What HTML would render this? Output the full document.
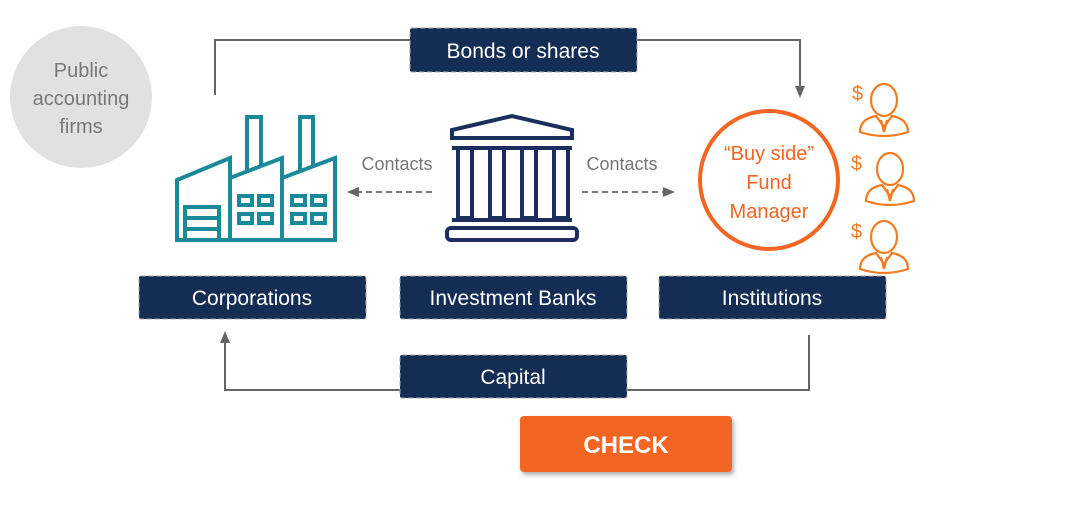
<!DOCTYPE html>
<html><head><meta charset="utf-8"><style>
body{margin:0;background:#fff;}
svg{display:block;font-family:"Liberation Sans",sans-serif;}
</style></head><body>
<svg width="1066" height="506" viewBox="0 0 1066 506">
<defs>
<marker id="ah" markerUnits="userSpaceOnUse" markerWidth="12" markerHeight="12" refX="9" refY="6" orient="auto"><path d="M0,1 L12,6 L0,11 z" fill="#666"/></marker>
<filter id="sh" x="-10%" y="-10%" width="130%" height="140%"><feDropShadow dx="2" dy="3" stdDeviation="2" flood-color="#000" flood-opacity="0.3"/></filter>
<g id="person" fill="none" stroke="#f47b20" stroke-width="2.2">
<ellipse cx="0" cy="-8" rx="13" ry="16"/>
<path d="M-24,24 Q-24,11 -8,8 L0,19 L8,8 Q24,11 24,24 Q0,32 -24,24 z"/>
<path d="M-3,12 L0,24 L3,12"/>
</g>
</defs>
<g>
<circle cx="81" cy="97" r="71" fill="#e1e1e1"/>
<text x="81" y="77" text-anchor="middle" font-size="20" fill="#777">Public</text>
<text x="81" y="105" text-anchor="middle" font-size="20" fill="#777">accounting</text>
<text x="81" y="133" text-anchor="middle" font-size="20" fill="#777">firms</text>
</g>
<path d="M215,95 V40 H800 V95" fill="none" stroke="#666" stroke-width="2" marker-end="url(#ah)"/>
<path d="M809,335 V390 H225 V334" fill="none" stroke="#666" stroke-width="2" marker-end="url(#ah)"/>
<g fill="none" stroke="#1a8a9a" stroke-width="4">
<path d="M177,240 V180 L230,158 V178 L282,158 V178 L335,158 V240 Z"/>
<path d="M230,178 V240 M282,178 V240"/>
<path d="M247,172 V117 H261 V167 M300,172 V117 H313 V167"/>
<rect x="185" y="207" width="34" height="33"/>
<path d="M185,218 H219 M185,229 H219"/>
<rect x="239" y="196" width="13" height="9"/><rect x="259" y="196" width="13" height="9"/>
<rect x="239" y="214" width="13" height="9"/><rect x="259" y="214" width="13" height="9"/>
<rect x="292" y="196" width="13" height="9"/><rect x="312" y="196" width="13" height="9"/>
<rect x="292" y="214" width="13" height="9"/><rect x="312" y="214" width="13" height="9"/>
</g>
<g fill="none" stroke="#1c2f5c" stroke-width="4">
<path d="M452,130 L512,116 L572,130 V138 H452 Z"/>
<rect x="458" y="148" width="14" height="70"/><rect x="490" y="148" width="14" height="70"/>
<rect x="522" y="148" width="14" height="70"/><rect x="554" y="148" width="14" height="70"/>
<path d="M452,148 H572 M452,220 H572"/>
<rect x="447" y="228" width="130" height="12" rx="4"/>
</g>
<text x="397" y="170" text-anchor="middle" font-size="18" fill="#777">Contacts</text>
<text x="622" y="170" text-anchor="middle" font-size="18" fill="#777">Contacts</text>
<path d="M432,192 H350" stroke="#777" stroke-width="2" stroke-dasharray="6,4" marker-end="url(#ah)"/>
<path d="M582,192 H672" stroke="#777" stroke-width="2" stroke-dasharray="6,4" marker-end="url(#ah)"/>
<g>
<circle cx="769" cy="180" r="69" fill="#fff" stroke="#f26522" stroke-width="4"/>
<text x="769" y="160" text-anchor="middle" font-size="20" fill="#f26522">“Buy side”</text>
<text x="769" y="189" text-anchor="middle" font-size="20" fill="#f26522">Fund</text>
<text x="769" y="218" text-anchor="middle" font-size="20" fill="#f26522">Manager</text>
</g>
<g>
<use href="#person" x="884" y="108"/><text x="852" y="100" font-size="20" fill="#f47b20">$</text>
<use href="#person" x="890" y="177"/><text x="851" y="170" font-size="20" fill="#f47b20">$</text>
<use href="#person" x="884" y="245"/><text x="851" y="238" font-size="20" fill="#f47b20">$</text>
</g>
<g><rect x="410" y="28" width="227" height="44" rx="2" fill="#142d55" stroke="#aaa" stroke-dasharray="5,3"/><text x="523" y="58" text-anchor="middle" font-size="21" fill="#fff">Bonds or shares</text></g>
<g><rect x="139" y="276" width="227" height="43" rx="2" fill="#142d55" stroke="#aaa" stroke-dasharray="5,3"/><text x="252" y="305" text-anchor="middle" font-size="21" fill="#fff">Corporations</text></g>
<g><rect x="400" y="276" width="227" height="43" rx="2" fill="#142d55" stroke="#aaa" stroke-dasharray="5,3"/><text x="513" y="305" text-anchor="middle" font-size="21" fill="#fff">Investment Banks</text></g>
<g><rect x="659" y="276" width="227" height="43" rx="2" fill="#142d55" stroke="#aaa" stroke-dasharray="5,3"/><text x="772" y="305" text-anchor="middle" font-size="21" fill="#fff">Institutions</text></g>
<g><rect x="400" y="355" width="227" height="43" rx="2" fill="#142d55" stroke="#aaa" stroke-dasharray="5,3"/><text x="513" y="384" text-anchor="middle" font-size="21" fill="#fff">Capital</text></g>
<g><rect x="520" y="416" width="212" height="56" rx="4" fill="#f26522" filter="url(#sh)"/><text x="626" y="453" text-anchor="middle" font-size="24" font-weight="bold" fill="#fff">CHECK</text></g>
</svg>
</body></html>
